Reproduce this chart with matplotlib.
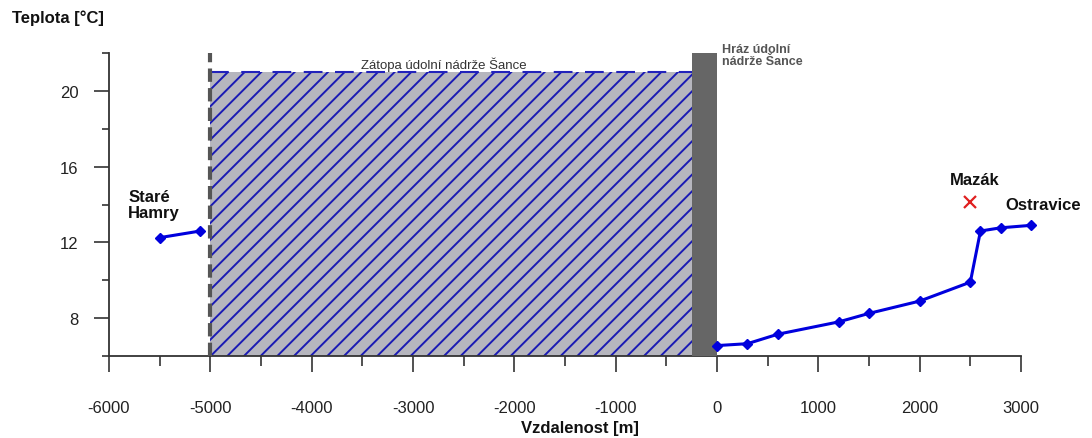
import matplotlib
matplotlib.use("Agg")
import matplotlib.pyplot as plt
from matplotlib.patches import Rectangle
from matplotlib.ticker import MultipleLocator

# data
hamry_x = [-5500, -5100]
hamry_t = [12.25, 12.6]
river_x = [0, 300, 600, 1200, 1500, 2000, 2500, 2600, 2800, 3100]
river_t = [6.55, 6.65, 7.15, 7.8, 8.25, 8.9, 9.9, 12.6, 12.77, 12.9]
mazak_x = [2500]
mazak_t = [14.15]
reservoir_x = [-5000, -250]   # Zátopa
reservoir_level = 21.0
dam_x = [-250, 0]            # Hráz

plt.rcParams['font.family'] = ['Liberation Sans', 'DejaVu Sans']
plt.rcParams['hatch.linewidth'] = 1.4
plt.rcParams['axes.unicode_minus'] = False

fig = plt.figure(figsize=(10.92, 4.39), dpi=100)
ax = fig.add_axes([109 / 1092, 82 / 439, 912 / 1092, 303 / 439])
ax.set_xlim(-6000, 3000)
ax.set_ylim(6, 22)

# reservoir (hatched area)
ax.add_patch(Rectangle((reservoir_x[0], 6), reservoir_x[1] - reservoir_x[0], reservoir_level - 6,
                       facecolor='#b6b6be', edgecolor='none', zorder=1))
ax.add_patch(Rectangle((reservoir_x[0], 6), reservoir_x[1] - reservoir_x[0], reservoir_level - 6,
                       fill=False, hatch='//', edgecolor='#1a1ab4', linewidth=0, zorder=2))
ax.plot(reservoir_x, [reservoir_level, reservoir_level], color='#2222bb', lw=1.5,
        dashes=(9, 6), zorder=3)
ax.plot([reservoir_x[0], reservoir_x[0]], [6, 22], color='#555555', lw=3,
        dashes=(3.2, 1.5), zorder=3, clip_on=False)

# dam
ax.add_patch(Rectangle((dam_x[0], 6), dam_x[1] - dam_x[0], 16, facecolor='#666666',
                       edgecolor='none', zorder=3))

# temperature profile
ax.plot(hamry_x, hamry_t, color='#0000dd', lw=2.2, marker='D', ms=5, zorder=5)
ax.plot(river_x, river_t, color='#0000dd', lw=2.2, marker='D', ms=5, zorder=5, clip_on=False)
ax.plot(mazak_x, mazak_t, 'x', color='#e02020', ms=9, mew=1.6, zorder=5)

# annotations
ax.text(-5810, 14.0, 'Staré\nHamry', fontsize=12, fontweight='bold', color='#111111',
        ha='left', va='center', linespacing=1.1)
ax.text(2540, 15.3, 'Mazák', fontsize=12, fontweight='bold', color='#111111',
        ha='center', va='center')
ax.text(2850, 14.0, 'Ostravice', fontsize=12, fontweight='bold', color='#111111',
        ha='left', va='center')
ax.text(-2700, 21.05, 'Zátopa údolní nádrže Šance', fontsize=9.5, color='#333333',
        ha='center', va='bottom')
ax.text(45, 22.55, 'Hráz údolní\nnádrže Šance', fontsize=9, fontweight='bold',
        color='#555555', ha='left', va='top', linespacing=1.0)

# axes styling
for side in ['top', 'right']:
    ax.spines[side].set_visible(False)
for side in ['left', 'bottom']:
    ax.spines[side].set_color('#333333')
    ax.spines[side].set_linewidth(1.3)

ax.xaxis.set_major_locator(MultipleLocator(1000))
ax.xaxis.set_minor_locator(MultipleLocator(500))
ax.yaxis.set_major_locator(MultipleLocator(4))
ax.yaxis.set_minor_locator(MultipleLocator(2))
ax.set_yticks([8, 12, 16, 20])
ax.tick_params(axis='x', which='major', length=11.5, width=1.2, pad=20, labelsize=12,
               color='#333333', labelcolor='#222222')
ax.tick_params(axis='x', which='minor', length=7.5, width=1.2, color='#333333')
ax.tick_params(axis='y', which='major', length=11, width=1.2, pad=11, labelsize=12,
               color='#333333', labelcolor='#222222')
ax.tick_params(axis='y', which='minor', length=5, width=1.2, color='#333333')

fig.text(12 / 1092, 1 - 18 / 439, 'Teplota [°C]', fontsize=12, fontweight='bold',
         color='#111111', ha='left', va='center')
fig.text(580 / 1092, 1 - 429 / 439, 'Vzdalenost [m]', fontsize=12, fontweight='bold',
         color='#111111', ha='center', va='center')

fig.savefig('out.png', dpi=100)
